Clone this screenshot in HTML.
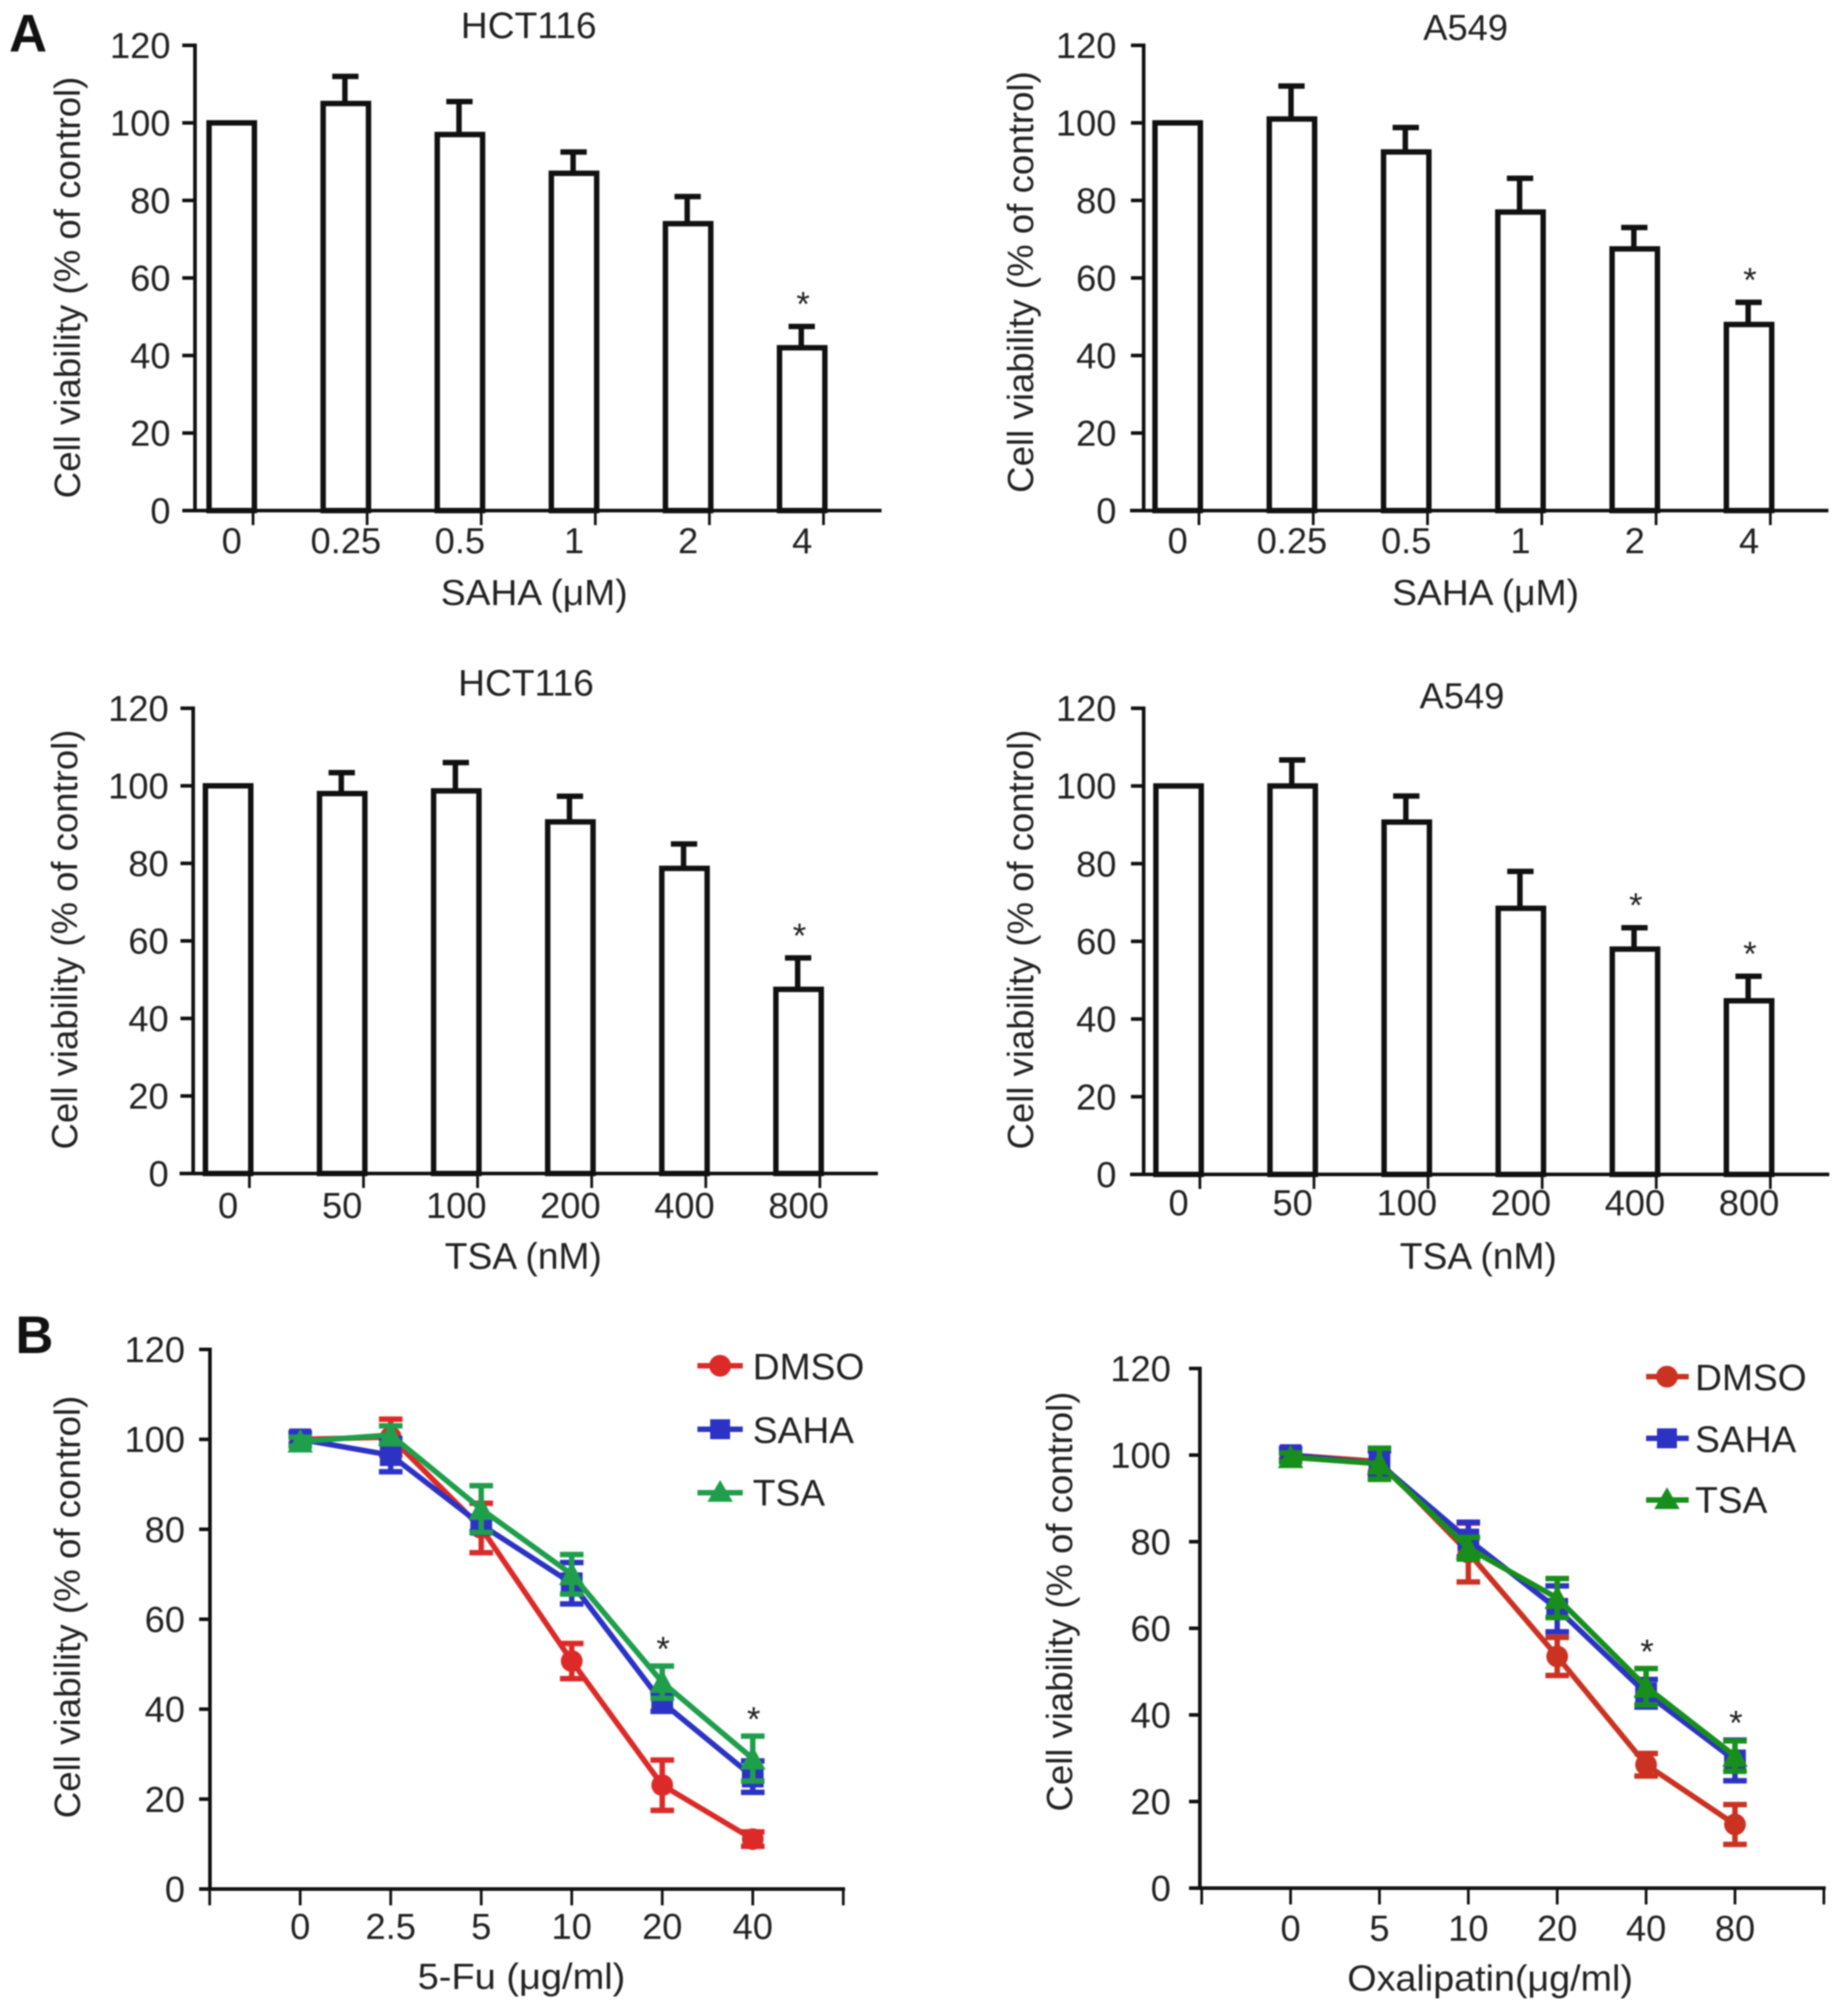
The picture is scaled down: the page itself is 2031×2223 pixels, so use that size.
<!DOCTYPE html>
<html lang="en">
<head>
<meta charset="utf-8">
<title>Cell viability charts</title>
<style>
html,body{margin:0;padding:0;background:#fff;width:2031px;height:2223px;overflow:hidden}
svg{display:block}
text{font-family:"Liberation Sans",sans-serif;font-size:40px;fill:#222}
.letter{font-size:58px;font-weight:bold;fill:#111}
#root{filter:blur(0.8px)}
</style>
</head>
<body>
<svg id="figure" xmlns="http://www.w3.org/2000/svg" width="2031" height="2223" viewBox="0 0 2031 2223">
<g id="root">
  <rect x="0" y="0" width="2031" height="2223" fill="#fff"/>
  <text class="letter" x="10" y="57">A</text>
  <text class="letter" x="17" y="1492">B</text>

  <text x="583" y="42" text-anchor="middle" style="font-size:41px">HCT116</text>
  <text x="1616" y="44" text-anchor="middle">A549</text>
  <text x="580" y="767" text-anchor="middle" style="font-size:41px">HCT116</text>
  <text x="1612" y="781" text-anchor="middle">A549</text>

  <text transform="rotate(-90 88 317)" x="88" y="317" text-anchor="middle" textLength="465" lengthAdjust="spacingAndGlyphs">Cell viability (% of control)</text>
  <text transform="rotate(-90 1139 311)" x="1139" y="311" text-anchor="middle" textLength="465" lengthAdjust="spacingAndGlyphs">Cell viability (% of control)</text>
  <text transform="rotate(-90 85 1036)" x="85" y="1036" text-anchor="middle" textLength="463" lengthAdjust="spacingAndGlyphs">Cell viability (% of control)</text>
  <text transform="rotate(-90 1139 1036)" x="1139" y="1036" text-anchor="middle" textLength="463" lengthAdjust="spacingAndGlyphs">Cell viability (% of control)</text>
  <text transform="rotate(-90 88 1772)" x="88" y="1772" text-anchor="middle" textLength="466" lengthAdjust="spacingAndGlyphs">Cell viability (% of control)</text>
  <text transform="rotate(-90 1182 1766)" x="1182" y="1766" text-anchor="middle" textLength="463" lengthAdjust="spacingAndGlyphs">Cell viability (% of control)</text>

  <text x="589" y="667" text-anchor="middle" textLength="206" lengthAdjust="spacingAndGlyphs">SAHA (μM)</text>
  <text x="1638" y="667" text-anchor="middle" textLength="206" lengthAdjust="spacingAndGlyphs">SAHA (μM)</text>
  <text x="577" y="1399" text-anchor="middle" style="font-size:41px">TSA (nM)</text>
  <text x="1630" y="1399" text-anchor="middle" style="font-size:41px">TSA (nM)</text>
  <text x="575" y="2193" text-anchor="middle" textLength="229" lengthAdjust="spacingAndGlyphs">5-Fu (μg/ml)</text>
  <text x="1643" y="2195" text-anchor="middle" textLength="315" lengthAdjust="spacingAndGlyphs">Oxalipatin(μg/ml)</text>

  <g>
    <g>
      <line x1="769" y1="1506" x2="819" y2="1506" stroke="#dc2a28" stroke-width="6"/>
      <circle cx="794" cy="1506" r="12" fill="#dc2a28"/>
      <text x="830" y="1521" style="font-size:41px">DMSO</text>
    </g>
    <g>
      <line x1="769" y1="1576" x2="819" y2="1576" stroke="#2c33c4" stroke-width="6"/>
      <rect x="783" y="1565" width="22" height="22" fill="#2c33c4"/>
      <text x="830" y="1591" style="font-size:41px">SAHA</text>
    </g>
    <g>
      <line x1="769" y1="1646" x2="819" y2="1646" stroke="#1f9e4c" stroke-width="6"/>
      <polygon points="794,1632 808,1656 780,1656" fill="#1f9e4c"/>
      <text x="830" y="1660" style="font-size:41px">TSA</text>
    </g>
  </g>
  <g>
    <g>
      <line x1="1815" y1="1518" x2="1862" y2="1518" stroke="#cb3222" stroke-width="6"/>
      <circle cx="1838" cy="1518" r="12" fill="#cb3222"/>
      <text x="1869" y="1533" style="font-size:41px">DMSO</text>
    </g>
    <g>
      <line x1="1815" y1="1586" x2="1862" y2="1586" stroke="#2c33c4" stroke-width="6"/>
      <rect x="1827" y="1575" width="22" height="22" fill="#2c33c4"/>
      <text x="1869" y="1601" style="font-size:41px">SAHA</text>
    </g>
    <g>
      <line x1="1815" y1="1654" x2="1862" y2="1654" stroke="#188f1c" stroke-width="6"/>
      <polygon points="1838,1640 1852,1664 1824,1664" fill="#188f1c"/>
      <text x="1869" y="1668" style="font-size:41px">TSA</text>
    </g>
  </g>
  <g id="charts"></g>
</g>
</svg>
<script>
// ---------- shared tick labels ----------
const yTickLabels = [0, 20, 40, 60, 80, 100, 120];
const sahaDoses = ['0', '0.25', '0.5', '1', '2', '4'];
const tsaDoses = ['0', '50', '100', '200', '400', '800'];
const fuDoses = ['0', '2.5', '5', '10', '20', '40'];
const oxaDoses = ['0', '5', '10', '20', '40', '80'];

// ---------- bar chart data ----------
const hctSahaValues = [100, 105, 97, 87, 74, 42];
const hctSahaErrors = [0, 7, 8.5, 5.5, 7, 5.5];
const hctSahaStars = [0, 0, 0, 0, 0, 1];
const a549SahaValues = [100, 101, 92.5, 77, 67.5, 48];
const a549SahaErrors = [0, 8.5, 6.3, 8.7, 5.5, 5.7];
const a549SahaStars = [0, 0, 0, 0, 0, 1];
const hctTsaValues = [100, 98, 98.7, 90.7, 78.7, 47.5];
const hctTsaErrors = [0, 5.4, 7.3, 6.6, 6.3, 8.1];
const hctTsaStars = [0, 0, 0, 0, 0, 1];
const a549TsaValues = [100, 100, 90.7, 68.5, 58, 44.7];
const a549TsaErrors = [0, 6.7, 6.7, 9.5, 5.5, 6.3];
const a549TsaStars = [0, 0, 0, 0, 1, 1];

// ---------- line chart data ----------
const fuDmsoValues = [100, 100.5, 80.3, 50.7, 23.1, 11.1];
const fuDmsoErrors = [1, 4, 5.5, 3.9, 5.6, 1.6];
const fuSahaValues = [100, 96.5, 81, 68, 41.5, 25];
const fuSahaErrors = [1.5, 3.7, 1.5, 4.6, 2, 3.5];
const fuTsaValues = [99.5, 101, 84.5, 70, 46, 29];
const fuTsaErrors = [1, 2, 5.2, 4.4, 3.6, 5];
const fuStars = [0, 0, 0, 0, 1, 1];
const oxaDmsoValues = [100, 98.5, 77.5, 53.5, 28.5, 14.7];
const oxaDmsoErrors = [1, 2.5, 6.8, 4.4, 2.6, 4.6];
const oxaSahaValues = [100, 98, 80.5, 64.5, 45, 29.5];
const oxaSahaErrors = [1.5, 3, 4, 5.3, 3.2, 4.7];
const oxaTsaValues = [99.5, 98, 78.5, 67, 46.5, 30.5];
const oxaTsaErrors = [1, 3.6, 2.5, 4.5, 4.2, 3.5];
const oxaStars = [0, 0, 0, 0, 1, 1];

const SVG_NS = 'http://www.w3.org/2000/svg';
const chartsRoot = document.getElementById('charts');

function make(tag, attrs, parent) {
  const el = document.createElementNS(SVG_NS, tag);
  for (const k in attrs) el.setAttribute(k, attrs[k]);
  parent.appendChild(el);
  return el;
}

function drawYAxis(g, p, yScale) {
  const axis = make('line', {x1: p.axisX, y1: yScale(120) - 2, x2: p.axisX, y2: yScale(0), stroke: '#111', 'stroke-width': 4}, g);
  
  
  yTickLabels.forEach(function (v) {
    const t = make('line', {x1: p.axisX - p.yTickLen, y1: yScale(v), x2: p.axisX, y2: yScale(v), stroke: '#111', 'stroke-width': 4}, g);
    
    
    const lab = make('text', {x: p.yLabelX, y: yScale(v) + 14, 'text-anchor': 'end'}, g);
    lab.textContent = String(v);
    
    
  });
}

function drawStar(g, x, y) {
  const s = make('text', {x: x, y: y + 21, 'text-anchor': 'middle', style: 'font-size:38px'}, g);
  s.textContent = '*';
  
  
}

function drawBarChart(p, labels, values, errors, stars) {
  const g = make('g', {}, chartsRoot);
  
  
  const yScale = function (v) { return p.y0 - (p.y0 - p.y120) * v / 120; };
  const tickX = function (i) { return p.x0 + i * p.step; };
  const barCx = function (i) { return tickX(i) - 23.5; };
  values.forEach(function (v, i) {
    const cx = barCx(i);
    if (errors[i] > 0) {
      const top = yScale(v + errors[i]);
      const stem = make('line', {x1: cx - 1, y1: top, x2: cx - 1, y2: yScale(v), stroke: '#111', 'stroke-width': 6}, g);
      
      
      const cap = make('line', {x1: cx - 15, y1: top, x2: cx + 14, y2: top, stroke: '#111', 'stroke-width': 6}, g);
      
      
    }
    const bar = make('rect', {x: cx - 25, y: yScale(v), width: 50, height: yScale(0) - yScale(v), fill: '#fff', stroke: '#111', 'stroke-width': 6}, g);
    
    
    if (stars[i]) drawStar(g, cx + 1, yScale(v + errors[i]) - 33);
  });
  const xAxis = make('line', {x1: p.xStart, y1: p.y0, x2: p.xEnd, y2: p.y0, stroke: '#111', 'stroke-width': 4}, g);
  
  
  labels.forEach(function (lab, i) {
    const t = make('line', {x1: tickX(i), y1: p.y0, x2: tickX(i), y2: p.y0 + 16, stroke: '#111', 'stroke-width': 3}, g);
    
    
    const tx = make('text', {x: barCx(i), y: p.labelY, 'text-anchor': 'middle'}, g);
    tx.textContent = lab;
    
    
  });
  drawYAxis(g, p, yScale);
}

function drawSeries(g, p, name, color, shape, values, errors, xScale, yScale) {
  const sg = make('g', {}, g);
  
  
  const pts = values.map(function (v, i) { return xScale(i) + ',' + yScale(v); }).join(' ');
  const line = make('polyline', {points: pts, fill: 'none', stroke: color, 'stroke-width': 6, 'stroke-linejoin': 'round'}, sg);
  
  
  values.forEach(function (v, i) {
    const x = xScale(i), y = yScale(v), up = yScale(v + errors[i]), dn = yScale(v - errors[i]);
    const err = make('path', {d: 'M' + (x - 13) + ' ' + up + 'H' + (x + 13) + 'M' + x + ' ' + up + 'V' + dn + 'M' + (x - 13) + ' ' + dn + 'H' + (x + 13), fill: 'none', stroke: color, 'stroke-width': 6}, sg);
    
    
    let m;
    if (shape === 'circle') {
      m = make('circle', {cx: x, cy: y, r: 12, fill: color}, sg);
    } else if (shape === 'square') {
      m = make('rect', {x: x - 12, y: y - 12, width: 24, height: 24, fill: color}, sg);
    } else {
      m = make('polygon', {points: x + ',' + (y - 14) + ' ' + (x + 14) + ',' + (y + 12) + ' ' + (x - 14) + ',' + (y + 12), fill: color}, sg);
    }
    
    
  });
}

function drawLineChart(p, labels, series, stars) {
  const g = make('g', {}, chartsRoot);
  
  
  const yScale = function (v) { return p.y0 - (p.y0 - p.y120) * v / 120; };
  const xScale = function (i) { return p.x0 + i * p.step; };
  drawYAxis(g, p, yScale);
  const xAxis = make('line', {x1: p.axisX - p.yTickLen, y1: p.y0, x2: xScale(6) + 2, y2: p.y0, stroke: '#111', 'stroke-width': 4}, g);
  
  
  for (let i = -1; i <= 6; i++) {
    const t = make('line', {x1: xScale(i), y1: p.y0, x2: xScale(i), y2: p.y0 + 18, stroke: '#111', 'stroke-width': 3}, g);
    
    
  }
  labels.forEach(function (lab, i) {
    const tx = make('text', {x: xScale(i), y: p.labelY, 'text-anchor': 'middle'}, g);
    tx.textContent = lab;
    
    
  });
  series.forEach(function (s) {
    drawSeries(g, p, s.name, s.color, s.shape, s.values, s.errors, xScale, yScale);
  });
  stars.forEach(function (flag, i) {
    if (!flag) return;
    let top = 0;
    series.forEach(function (s) { top = Math.max(top, s.values[i] + s.errors[i]); });
    drawStar(g, xScale(i) + 1, yScale(top) - 27);
  });
}

drawBarChart({name: 'chart-hct116-saha', axisX: 215, yLabelX: 188, yTickLen: 14, y0: 563, y120: 50, x0: 279, step: 125.8, xStart: 202, xEnd: 972, labelY: 610},
  sahaDoses, hctSahaValues, hctSahaErrors, hctSahaStars);
drawBarChart({name: 'chart-a549-saha', axisX: 1261, yLabelX: 1231, yTickLen: 14, y0: 563, y120: 50, x0: 1322, step: 126, xStart: 1246, xEnd: 2016, labelY: 610},
  sahaDoses, a549SahaValues, a549SahaErrors, a549SahaStars);
drawBarChart({name: 'chart-hct116-tsa', axisX: 213, yLabelX: 186, yTickLen: 14, y0: 1294, y120: 781, x0: 275, step: 125.8, xStart: 198, xEnd: 968, labelY: 1343},
  tsaDoses, hctTsaValues, hctTsaErrors, hctTsaStars);
drawBarChart({name: 'chart-a549-tsa', axisX: 1261, yLabelX: 1231, yTickLen: 14, y0: 1295, y120: 781, x0: 1323, step: 125.8, xStart: 1246, xEnd: 2017, labelY: 1340},
  tsaDoses, a549TsaValues, a549TsaErrors, a549TsaStars);

drawLineChart({name: 'chart-5fu', axisX: 231.5, yLabelX: 204, yTickLen: 12, y0: 2083, y120: 1488, x0: 331, step: 99.8, labelY: 2138},
  fuDoses,
  [{name: 'dmso', color: '#dc2a28', shape: 'circle', values: fuDmsoValues, errors: fuDmsoErrors},
   {name: 'saha', color: '#2c33c4', shape: 'square', values: fuSahaValues, errors: fuSahaErrors},
   {name: 'tsa', color: '#1f9e4c', shape: 'triangle', values: fuTsaValues, errors: fuTsaErrors}],
  fuStars);
drawLineChart({name: 'chart-oxaliplatin', axisX: 1323, yLabelX: 1291, yTickLen: 12, y0: 2082, y120: 1509, x0: 1423, step: 98, labelY: 2140},
  oxaDoses,
  [{name: 'dmso', color: '#cb3222', shape: 'circle', values: oxaDmsoValues, errors: oxaDmsoErrors},
   {name: 'saha', color: '#2c33c4', shape: 'square', values: oxaSahaValues, errors: oxaSahaErrors},
   {name: 'tsa', color: '#188f1c', shape: 'triangle', values: oxaTsaValues, errors: oxaTsaErrors}],
  oxaStars);
</script>
</body>
</html>
